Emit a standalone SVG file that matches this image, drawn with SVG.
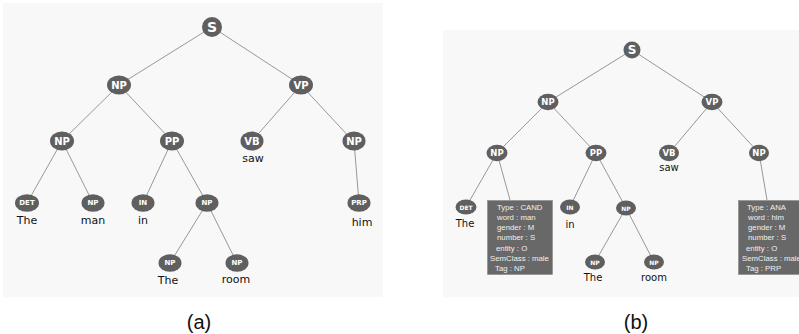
<svg xmlns="http://www.w3.org/2000/svg" width="799" height="334" viewBox="0 0 799 334">
<style>
.bg{fill:#f8f8f8}
.edge{stroke:#8c8c8c;stroke-width:0.9;fill:none}
.n{fill:#5f5f5f}
.lb{font-family:"DejaVu Sans",sans-serif;font-weight:bold;fill:#ffffff;text-anchor:middle;dominant-baseline:central}
.s{font-size:14px}
.m{font-size:10px}
.sm{font-size:7px}
.w{font-family:"DejaVu Sans",sans-serif;font-size:11px;fill:#111;text-anchor:middle}
.wb{font-family:"DejaVu Sans",sans-serif;font-size:10px;fill:#111;text-anchor:middle}
.box{fill:#686868;stroke:#8a8a8a;stroke-width:0.6}
.bt{font-family:"Liberation Sans",Arial,sans-serif;font-size:7.8px;fill:#f0f0f0}
.cap{font-family:"Liberation Sans",Arial,sans-serif;font-size:20px;fill:#111;text-anchor:middle}
</style>
<rect width="799" height="334" fill="#ffffff"/>
<rect class="bg" x="3" y="3" width="380" height="294"/>
<rect class="bg" x="443" y="30" width="356" height="267"/>

<g id="connectors">
  <line class="edge" x1="212" y1="27" x2="119" y2="85"/>
  <line class="edge" x1="212" y1="27" x2="301" y2="85"/>
  <line class="edge" x1="119" y1="85" x2="62" y2="141"/>
  <line class="edge" x1="119" y1="85" x2="172" y2="141"/>
  <line class="edge" x1="301" y1="85" x2="252" y2="141"/>
  <line class="edge" x1="301" y1="85" x2="353" y2="141"/>
  <line class="edge" x1="62" y1="141" x2="27" y2="203"/>
  <line class="edge" x1="62" y1="141" x2="93" y2="203"/>
  <line class="edge" x1="172" y1="141" x2="143" y2="203"/>
  <line class="edge" x1="172" y1="141" x2="207" y2="203"/>
  <line class="edge" x1="207" y1="203" x2="170" y2="263"/>
  <line class="edge" x1="207" y1="203" x2="237" y2="263"/>
  <line class="edge" x1="354" y1="141" x2="359" y2="203"/>

  <line class="edge" x1="632" y1="50" x2="548" y2="102"/>
  <line class="edge" x1="632" y1="50" x2="712" y2="102"/>
  <line class="edge" x1="548" y1="102" x2="497" y2="153"/>
  <line class="edge" x1="548" y1="102" x2="596" y2="153"/>
  <line class="edge" x1="712" y1="102" x2="669" y2="153"/>
  <line class="edge" x1="712" y1="102" x2="759" y2="153"/>
  <line class="edge" x1="497" y1="153" x2="466" y2="207"/>
  <line class="edge" x1="497" y1="153" x2="510" y2="200"/>
  <line class="edge" x1="596" y1="153" x2="570" y2="207"/>
  <line class="edge" x1="596" y1="153" x2="626" y2="208"/>
  <line class="edge" x1="626" y1="208" x2="595" y2="262"/>
  <line class="edge" x1="626" y1="208" x2="654" y2="262"/>
  <line class="edge" x1="759" y1="153" x2="767" y2="200"/>
</g>

<!-- panel (a) -->
<g id="a-S"><ellipse class="n" cx="212" cy="27" rx="10" ry="10"/><text class="lb s" x="212" y="27">S</text></g>
<g id="a-NP1"><ellipse class="n" cx="119" cy="85" rx="12" ry="9.5"/><text class="lb m" x="119" y="85">NP</text></g>
<g id="a-VP"><ellipse class="n" cx="301" cy="85" rx="12" ry="9.5"/><text class="lb m" x="301" y="85">VP</text></g>
<g id="a-NP2"><ellipse class="n" cx="62" cy="141" rx="12" ry="9.5"/><text class="lb m" x="62" y="141">NP</text></g>
<g id="a-PP"><ellipse class="n" cx="172" cy="141" rx="12" ry="9.5"/><text class="lb m" x="172" y="141">PP</text></g>
<g id="a-VB"><ellipse class="n" cx="252" cy="141" rx="11.5" ry="9.5"/><text class="lb m" x="252" y="141">VB</text><text class="w" x="253" y="162">saw</text></g>
<g id="a-NP3"><ellipse class="n" cx="354" cy="141" rx="11.5" ry="9.5"/><text class="lb m" x="354" y="141">NP</text></g>
<g id="a-DET"><ellipse class="n" cx="27" cy="203" rx="12" ry="8.8"/><text class="lb sm" x="27" y="203">DET</text><text class="w" x="27" y="224">The</text></g>
<g id="a-NP4"><ellipse class="n" cx="93" cy="203" rx="11.5" ry="8.8"/><text class="lb sm" x="93" y="203">NP</text><text class="w" x="93" y="224">man</text></g>
<g id="a-IN"><ellipse class="n" cx="143" cy="203" rx="11.5" ry="8.8"/><text class="lb sm" x="143" y="203">IN</text><text class="w" x="143" y="224">in</text></g>
<g id="a-NP5"><ellipse class="n" cx="207" cy="203" rx="11.5" ry="8.8"/><text class="lb sm" x="207" y="203">NP</text></g>
<g id="a-PRP"><ellipse class="n" cx="359" cy="203" rx="11.5" ry="8.8"/><text class="lb sm" x="359" y="203">PRP</text><text class="w" x="362" y="226">him</text></g>
<g id="a-NP6"><ellipse class="n" cx="170" cy="263" rx="11.5" ry="8.8"/><text class="lb sm" x="170" y="263">NP</text><text class="w" x="168" y="284">The</text></g>
<g id="a-NP7"><ellipse class="n" cx="237" cy="263" rx="11.5" ry="8.8"/><text class="lb sm" x="237" y="263">NP</text><text class="w" x="236" y="283">room</text></g>

<!-- panel (b) -->
<g id="b-S"><ellipse class="n" cx="632" cy="50" rx="8.5" ry="8.5"/><text class="lb" style="font-size:12px" x="632" y="50">S</text></g>
<g id="b-NP1"><ellipse class="n" cx="548" cy="102" rx="10.5" ry="8.2"/><text class="lb" style="font-size:8.5px" x="548" y="102">NP</text></g>
<g id="b-VP"><ellipse class="n" cx="712" cy="102" rx="10.5" ry="8.2"/><text class="lb" style="font-size:8.5px" x="712" y="102">VP</text></g>
<g id="b-NP2"><ellipse class="n" cx="497" cy="153" rx="10.5" ry="8.2"/><text class="lb" style="font-size:8.5px" x="497" y="153">NP</text></g>
<g id="b-PP"><ellipse class="n" cx="596" cy="153" rx="10.5" ry="8.2"/><text class="lb" style="font-size:8.5px" x="596" y="153">PP</text></g>
<g id="b-VB"><ellipse class="n" cx="669" cy="153" rx="10" ry="8.2"/><text class="lb" style="font-size:8.5px" x="669" y="153">VB</text><text class="wb" x="669" y="171">saw</text></g>
<g id="b-NP3"><ellipse class="n" cx="759" cy="153" rx="10" ry="8.2"/><text class="lb" style="font-size:8.5px" x="759" y="153">NP</text></g>
<g id="b-DET"><ellipse class="n" cx="466" cy="207" rx="10.5" ry="7.6"/><text class="lb" style="font-size:6px" x="466" y="207">DET</text><text class="wb" x="465" y="227">The</text></g>
<g id="b-IN"><ellipse class="n" cx="570" cy="207" rx="10" ry="7.6"/><text class="lb" style="font-size:6px" x="570" y="207">IN</text><text class="wb" x="570" y="228">in</text></g>
<g id="b-NP4"><ellipse class="n" cx="626" cy="208" rx="10" ry="7.6"/><text class="lb" style="font-size:6px" x="626" y="208">NP</text></g>
<g id="b-NP5"><ellipse class="n" cx="595" cy="262" rx="10" ry="7.6"/><text class="lb" style="font-size:6px" x="595" y="262">NP</text><text class="wb" x="593" y="281">The</text></g>
<g id="b-NP6"><ellipse class="n" cx="654" cy="262" rx="10" ry="7.6"/><text class="lb" style="font-size:6px" x="654" y="262">NP</text><text class="wb" x="654" y="281">room</text></g>

<g id="b-box1">
  <rect class="box" x="487.5" y="200.5" width="65" height="74"/>
  <text class="bt" x="497" y="210">Type : CAND</text>
  <text class="bt" x="497" y="220">word : man</text>
  <text class="bt" x="497" y="230">gender : M</text>
  <text class="bt" x="497" y="240">number : S</text>
  <text class="bt" x="496" y="251">entity : O</text>
  <text class="bt" x="490" y="261">SemClass : male</text>
  <text class="bt" x="495" y="271">Tag : NP</text>
</g>
<g id="b-box2">
  <rect class="box" x="738.5" y="200.5" width="70" height="74"/>
  <text class="bt" x="747" y="210">Type : ANA</text>
  <text class="bt" x="748" y="220">word : him</text>
  <text class="bt" x="748" y="230">gender : M</text>
  <text class="bt" x="748" y="240">number : S</text>
  <text class="bt" x="746" y="251">entity : O</text>
  <text class="bt" x="742" y="261">SemClass : male</text>
  <text class="bt" x="746" y="271">Tag : PRP</text>
</g>

<g id="captions">
  <text class="cap" x="199" y="329">(a)</text>
  <text class="cap" x="636" y="329">(b)</text>
</g>
</svg>
